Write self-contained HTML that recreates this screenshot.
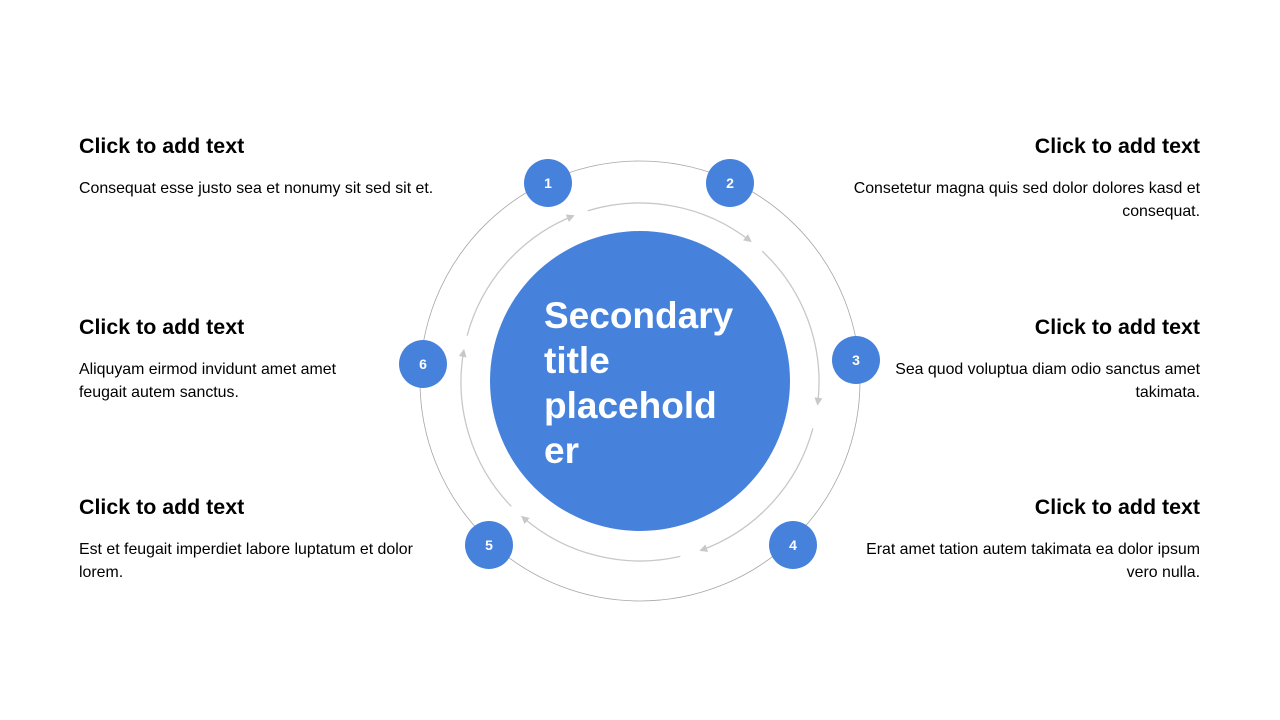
<!DOCTYPE html>
<html><head><meta charset="utf-8"><style>
body{margin:0;width:1280px;height:720px;background:#fff;position:relative;overflow:hidden;font-family:"Liberation Sans",Arial,sans-serif;color:#000}
.h{position:absolute;font-size:21.4px;font-weight:bold;line-height:24px;white-space:nowrap}
.p{position:absolute;font-size:15.9px;line-height:23px}
.l{left:79px}.r{right:80px;text-align:right}
</style></head><body>
<svg id="s" width="1280" height="720" style="position:absolute;left:0;top:0">
<defs><marker id="a" markerWidth="8" markerHeight="8" refX="6" refY="4" orient="auto" markerUnits="userSpaceOnUse"><path d="M0,0 L8,4 L0,8 Z" fill="#c8c8c8"/></marker></defs>
<circle cx="640" cy="381" r="220" fill="none" stroke="#a6a6a6" stroke-width="0.8"/>
<g id="arcs"></g>
<circle cx="640" cy="381" r="150" fill="#4682dc"/>
<g fill="#4682dc">
<circle cx="548" cy="183" r="24"/><circle cx="730" cy="183" r="24"/><circle cx="856" cy="360" r="24"/>
<circle cx="793" cy="545" r="24"/><circle cx="489" cy="545" r="24"/><circle cx="423" cy="364" r="24"/>
</g>
<g fill="#fff" font-size="14" font-weight="bold" text-anchor="middle" font-family="Liberation Sans,Arial,sans-serif">
<text x="548" y="188">1</text><text x="730" y="188">2</text><text x="856" y="365">3</text>
<text x="793" y="550">4</text><text x="489" y="550">5</text><text x="423" y="369">6</text>
</g>
<g fill="#fff" font-size="37" font-weight="bold" font-family="Liberation Sans,Arial,sans-serif">
<text x="544" y="328">Secondary</text><text x="544" y="373">title</text><text x="544" y="418">placehold</text><text x="544" y="463">er</text>
</g>
</svg>
<script>
var g=document.getElementById('arcs'),cx=640,cy=382,R=179,s='';
[[-17,38],[43,97],[105,160],[167,221],[226,280],[285,338]].forEach(function(a){
var p=function(d){var t=d*Math.PI/180;return (cx+R*Math.sin(t)).toFixed(1)+','+(cy-R*Math.cos(t)).toFixed(1)};
s+='<path d="M'+p(a[0])+' A'+R+','+R+' 0 0 1 '+p(a[1])+'" fill="none" stroke="#c8c8c8" stroke-width="1.3" marker-end="url(#a)"/>';});
g.innerHTML=s;
</script>
<div class="h l" style="top:134px">Click to add text</div>
<div class="p l" style="top:177px">Consequat esse justo sea et nonumy sit sed sit et.</div>
<div class="h l" style="top:315px">Click to add text</div>
<div class="p l" style="top:358px">Aliquyam eirmod invidunt amet amet<br>feugait autem sanctus.</div>
<div class="h l" style="top:495px">Click to add text</div>
<div class="p l" style="top:538px">Est et feugait imperdiet labore luptatum et dolor<br>lorem.</div>
<div class="h r" style="top:134px">Click to add text</div>
<div class="p r" style="top:177px">Consetetur magna quis sed dolor dolores kasd et<br>consequat.</div>
<div class="h r" style="top:315px">Click to add text</div>
<div class="p r" style="top:358px">Sea quod voluptua diam odio sanctus amet<br>takimata.</div>
<div class="h r" style="top:495px">Click to add text</div>
<div class="p r" style="top:538px">Erat amet tation autem takimata ea dolor ipsum<br>vero nulla.</div>
</body></html>
